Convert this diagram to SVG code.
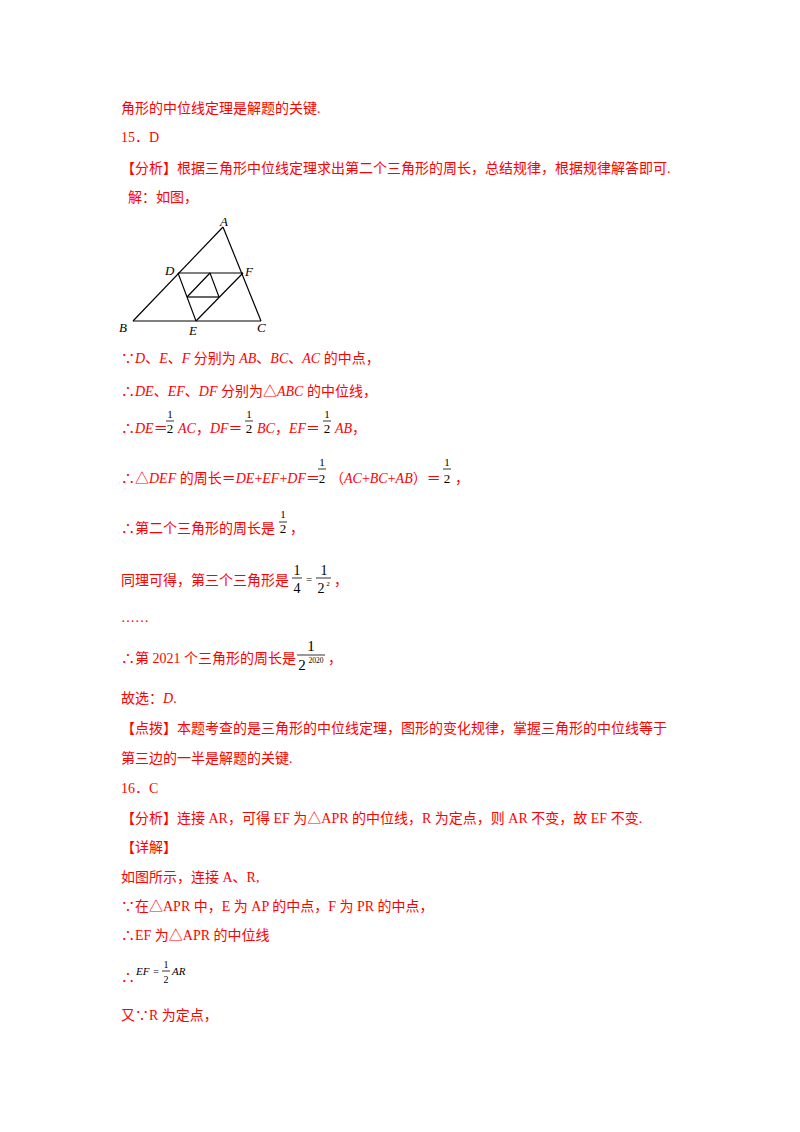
<svg xmlns="http://www.w3.org/2000/svg" width="800" height="1132" viewBox="0 0 800 1132">
<style>
.t{font-family:"Liberation Serif","Noto Sans CJK SC",serif;font-size:14px;fill:#ff0000}
.i{font-style:italic}
.f{font-family:"Liberation Serif",serif;font-size:13px;fill:#000;text-anchor:middle}
.b{stroke:#000;stroke-width:0.8}
.l{font-family:"Liberation Serif",serif;font-style:italic;font-size:13px;fill:#000}
.g line{stroke:#000;stroke-width:1.2}
</style>
<rect width="800" height="1132" fill="#fff"/>
<text class="t" x="121" y="113">角形的中位线定理是解题的关键.</text>
<text class="t" x="121" y="142">15．D</text>
<text class="t" x="121" y="173">【分析】根据三角形中位线定理求出第二个三角形的周长，总结规律，根据规律解答即可.</text>
<text class="t" x="128" y="202">解：如图，</text>
<g id="figure" class="g">
<line x1="223" y1="227" x2="133" y2="321"/>
<line x1="223" y1="227" x2="261" y2="321"/>
<line x1="133" y1="321" x2="261" y2="321"/>
<line x1="178" y1="273" x2="243" y2="273"/>
<line x1="178" y1="273" x2="196" y2="321"/>
<line x1="196" y1="321" x2="243" y2="273"/>
<line x1="210" y1="273" x2="187" y2="297"/>
<line x1="210" y1="273" x2="219" y2="297"/>
<line x1="187" y1="297" x2="219" y2="297"/>
</g>
<text class="l" x="220" y="226">A</text>
<text class="l" x="165" y="275">D</text>
<text class="l" x="245" y="276">F</text>
<text class="l" x="119" y="332">B</text>
<text class="l" x="189" y="335">E</text>
<text class="l" x="257" y="332">C</text>
<text class="t" x="121" y="363">∵<tspan class="i">D</tspan>、<tspan class="i">E</tspan>、<tspan class="i">F</tspan> 分别为 <tspan class="i">AB</tspan>、<tspan class="i">BC</tspan>、<tspan class="i">AC</tspan> 的中点，</text>
<text class="t" x="121" y="396">∴<tspan class="i">DE</tspan>、<tspan class="i">EF</tspan>、<tspan class="i">DF</tspan> 分别为△<tspan class="i">ABC</tspan> 的中位线，</text>
<text class="t" x="121" y="433">∴<tspan class="i">DE</tspan>＝</text>
<text class="f" x="170" y="418" style="font-size:11px">1</text><line class="b" x1="166" y1="421" x2="174" y2="421"/><text class="f" x="170" y="433">2</text>
<text class="t" x="178" y="433"><tspan class="i">AC</tspan>，<tspan class="i">DF</tspan>＝</text>
<text class="f" x="249" y="418" style="font-size:11px">1</text><line class="b" x1="245" y1="421" x2="253" y2="421"/><text class="f" x="249" y="433">2</text>
<text class="t" x="257" y="433"><tspan class="i">BC</tspan>，<tspan class="i">EF</tspan>＝</text>
<text class="f" x="327" y="418" style="font-size:11px">1</text><line class="b" x1="323" y1="421" x2="331" y2="421"/><text class="f" x="327" y="433">2</text>
<text class="t" x="335" y="433"><tspan class="i">AB</tspan>，</text>
<text class="t" x="121" y="483">∴△<tspan class="i">DEF</tspan> 的周长＝<tspan class="i">DE</tspan>+<tspan class="i">EF</tspan>+<tspan class="i">DF</tspan>＝</text>
<text class="f" x="322" y="466" style="font-size:11px">1</text><line class="b" x1="318" y1="469" x2="326" y2="469"/><text class="f" x="322" y="483">2</text>
<text class="t" x="330" y="483">（<tspan class="i">AC</tspan>+<tspan class="i">BC</tspan>+<tspan class="i">AB</tspan>）＝</text>
<text class="f" x="447" y="466" style="font-size:11px">1</text><line class="b" x1="443" y1="469" x2="451" y2="469"/><text class="f" x="447" y="483">2</text>
<text class="t" x="455" y="483">，</text>
<text class="t" x="121" y="533">∴第二个三角形的周长是</text>
<text class="f" x="283" y="518" style="font-size:11px">1</text><line class="b" x1="279" y1="522" x2="287" y2="522"/><text class="f" x="283" y="533">2</text>
<text class="t" x="290" y="533">，</text>
<text class="t" x="121" y="585">同理可得，第三个三角形是</text>
<text class="f" x="297" y="575" style="font-size:14px">1</text><line class="b" x1="292" y1="578" x2="302" y2="578"/><text class="f" x="297" y="593" style="font-size:14px">4</text>
<text class="f" x="309" y="583" style="font-size:11px">=</text>
<text class="f" x="324" y="575" style="font-size:14px">1</text><line class="b" x1="316" y1="578" x2="331" y2="578"/><text class="f" x="321" y="593" style="font-size:14px">2</text><text class="f" x="328" y="586" style="font-size:7px">2</text>
<text class="t" x="334" y="585">，</text>
<text class="t" x="121" y="622">……</text>
<text class="t" x="121" y="663">∴第 2021 个三角形的周长是</text>
<text class="f" x="311" y="651" style="font-size:15px">1</text><line class="b" x1="297" y1="655" x2="325" y2="655"/><text class="f" x="302" y="670" style="font-size:15px">2</text><text class="f" x="316" y="663" style="font-size:7.5px">2020</text>
<text class="t" x="328" y="663">，</text>
<text class="t" x="121" y="703">故选：<tspan class="i">D</tspan>.</text>
<text class="t" x="121" y="733">【点拨】本题考查的是三角形的中位线定理，图形的变化规律，掌握三角形的中位线等于</text>
<text class="t" x="121" y="763">第三边的一半是解题的关键.</text>
<text class="t" x="121" y="793">16．C</text>
<text class="t" x="121" y="823">【分析】连接 AR，可得 EF 为△APR 的中位线，R 为定点，则 AR 不变，故 EF 不变.</text>
<text class="t" x="121" y="852">【详解】</text>
<text class="t" x="121" y="882">如图所示，连接 A、R,</text>
<text class="t" x="121" y="911">∵在△APR 中，E 为 AP 的中点，F 为 PR 的中点，</text>
<text class="t" x="121" y="940">∴EF 为△APR 的中位线</text>
<text class="t" x="121" y="982">∴</text>
<text class="l" x="136" y="975" style="font-size:11px">EF</text>
<text class="f" x="156" y="975" style="font-size:10px">=</text>
<text class="f" x="166" y="968" style="font-size:10px">1</text><line class="b" x1="162" y1="971" x2="170" y2="971"/><text class="f" x="166" y="983" style="font-size:10px">2</text>
<text class="l" x="172" y="975" style="font-size:11px">AR</text>
<text class="t" x="121" y="1020">又∵R 为定点，</text>
</svg>
